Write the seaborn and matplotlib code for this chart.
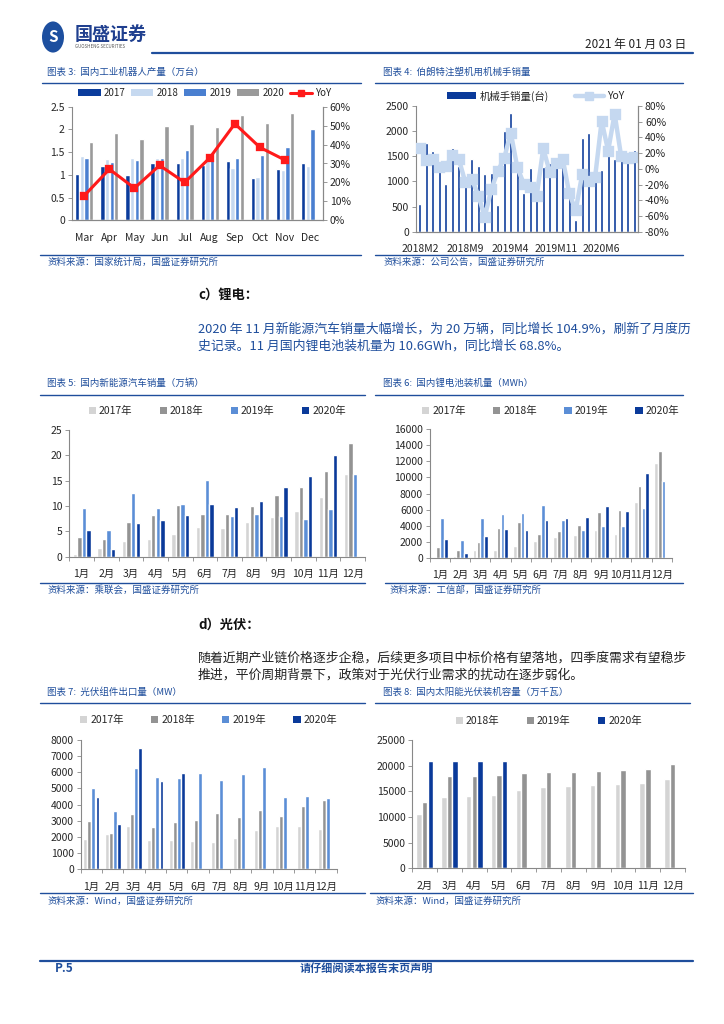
import numpy as np
import pandas as pd
import matplotlib
matplotlib.use('Agg')
import matplotlib.pyplot as plt
import seaborn as sns
from matplotlib.patches import Circle, Patch
from matplotlib.lines import Line2D

# ---- data ----
robot_months = ['Mar', 'Apr', 'May', 'Jun', 'Jul', 'Aug', 'Sep', 'Oct', 'Nov', 'Dec']
robot_2017 = [1.02, 1.20, 1.00, 1.26, 1.25, 1.22, 1.31, 0.94, 1.12, 1.27]
robot_2018 = [1.41, 1.35, 1.37, 1.38, 1.37, 1.40, 1.15, 0.96, 1.10, 1.20]
robot_2019 = [1.37, 1.29, 1.33, 1.37, 1.55, 1.42, 1.37, 1.44, 1.61, 2.00]
robot_2020 = [1.73, 1.93, 1.78, 2.08, 2.12, 2.06, 2.32, 2.14, 2.37, np.nan]
robot_yoy = [13, 27, 17, 29, 20, 33, 51, 38.5, 31.8, np.nan]

arm_months = [f'{p.year}M{p.month}' for p in pd.period_range('2018-02', '2020-11', freq='M')]
arm_sales = [560, 1760, 1610, 1230, 950, 1670, 1300, 900, 1450, 1310, 1140, 1160,
             540, 2000, 2360, 1250, 760, 1270, 680, 1280, 1370, 1300, 1290, 700,
             240, 1870, 1970, 1150, 1230, 1560, 1440, 1450, 1550, 1620]
arm_yoy = [27, 11, 13, 2, 3, 17, 12, -17, -13, -34, -61, -26,
           -3, 14, 46, 2, -19, -23, -34, 26, -4, 8, 13, -31,
           -53, -7, -15, -10, 61, 23, 70, 16, 14, 15]

cn_months = ['1月', '2月', '3月', '4月', '5月', '6月', '7月', '8月', '9月', '10月', '11月', '12月']
ev_2017 = [0.6, 1.8, 3.1, 3.5, 4.5, 5.9, 5.6, 6.8, 7.8, 9.1, 11.8, 16.3]
ev_2018 = [3.8, 3.4, 6.8, 8.2, 10.2, 8.4, 8.4, 10.1, 12.1, 13.8, 16.9, 22.4]
ev_2019 = [9.6, 5.3, 12.6, 9.7, 10.4, 15.2, 8.0, 8.5, 8.0, 7.5, 9.5, 16.3]
ev_2020 = [5.2, 1.6, 6.6, 7.2, 8.2, 10.4, 9.8, 10.9, 13.8, 16.0, 20.0, np.nan]

bat_2017 = [0, 200, 900, 900, 1400, 2100, 2600, 2800, 3400, 2900, 6900, 11800]
bat_2018 = [1300, 1000, 2000, 3700, 4500, 2900, 3300, 4100, 5700, 5900, 8900, 13300]
bat_2019 = [5000, 2200, 5000, 5400, 5600, 6600, 4700, 3400, 3900, 4000, 6200, 9500]
bat_2020 = [2300, 600, 2700, 3600, 3500, 4700, 5000, 5100, 6500, 5800, 10500, np.nan]

pv_2017 = [1850, 2200, 2700, 1800, 1800, 1750, 1700, 1950, 2450, 2650, 2700, 2500]
pv_2018 = [3000, 2250, 3450, 2600, 2900, 3050, 3500, 3250, 3650, 3300, 3900, 4300]
pv_2019 = [5000, 3600, 6250, 5700, 5650, 5950, 5500, 5900, 6300, 4500, 4550, 4400]
pv_2020 = [4450, 2800, 7500, 5450, 5950] + [np.nan] * 7

cap_months = cn_months[1:]
cap_2018 = [10500, 13800, 14100, 14200, 15300, 15800, 16000, 16200, 16500, 16700, 17400]
cap_2019 = [13000, 17900, 18000, 18100, 18500, 18700, 18800, 19000, 19200, 19300, 20400]
cap_2020 = [20900, 20900, 20900, 21000] + [np.nan] * 7

# ---- style ----
sns.set_theme(style='white')
plt.rcParams['font.family'] = ['Noto Sans CJK SC', 'DejaVu Sans']
plt.rcParams['axes.unicode_minus'] = False

BLUE = '#1f4e9c'
NAVY = '#0a3a9a'
SPINE = '#888888'
W, H = 724, 1024

fig = plt.figure(figsize=(W / 100, H / 100), dpi=100)


def box(x0, y0, x1, y1):
    return [x0 / W, 1 - y1 / H, (x1 - x0) / W, (y1 - y0) / H]


def txt(x, y, s, **kw):
    fig.text(x / W, 1 - y / H, s, va='center', **kw)


def hline(x0, x1, y, color=BLUE, lw=1.0):
    fig.add_artist(Line2D([x0 / W, x1 / W], [1 - y / H, 1 - y / H], color=color, lw=lw))


def grouped(ax, months, series, colors, width, gap):
    df = pd.DataFrame(series, index=months)
    long = df.reset_index(names='m').melt(id_vars='m', var_name='yr', value_name='v').dropna()
    sns.barplot(data=long, x='m', y='v', hue='yr', hue_order=list(series.keys()),
                order=months, palette=colors, saturation=1, width=width, gap=gap,
                errorbar=None, ax=ax, legend=False)


def frame(ax, ymax, step, fs=7.5, right=False):
    ax.set_ylim(0, ymax)
    ax.set_yticks(np.arange(0, ymax + step / 2, step))
    ax.yaxis.set_major_formatter(plt.FuncFormatter(lambda v, p: f'{v:g}'))
    ax.set_xlabel('')
    ax.set_ylabel('')
    for s in ['top', 'right']:
        ax.spines[s].set_visible(right and s == 'right')
    for s in ['left', 'bottom', 'right']:
        ax.spines[s].set_color(SPINE)
        ax.spines[s].set_linewidth(0.8)
    ax.tick_params(axis='y', left=True, length=3, width=0.6, color=SPINE, labelsize=fs, pad=2)
    ax.tick_params(axis='x', bottom=False, labelsize=fs, pad=3)


def sq_legend(ax, labels, colors, dy, h):
    handles = [Patch(facecolor=c, edgecolor='none') for c in colors]
    ax.legend(handles, labels, loc='center', bbox_to_anchor=(0.5, 1 + dy / h), ncol=len(labels),
              frameon=False, fontsize=7.5, handlelength=0.7, handleheight=0.7,
              handletextpad=0.3, columnspacing=2.6)


def cat_ticks(ax, n):
    ax.set_xticks(np.arange(n + 1) - 0.5, minor=True)
    ax.tick_params(axis='x', which='minor', bottom=True, length=3, width=0.6, color=SPINE)


def right_axis(ax2, lo, hi, step):
    ax2.set_ylim(lo, hi)
    ax2.set_yticks(np.arange(lo, hi + 1, step))
    ax2.yaxis.set_major_formatter(plt.FuncFormatter(lambda v, p: f'{v:.0f}%'))
    ax2.tick_params(axis='y', right=True, length=3, width=0.6, color=SPINE, labelsize=7.5, pad=2)
    ax2.set_ylabel('')
    for s in ['top', 'left']:
        ax2.spines[s].set_visible(False)
    for s in ['right', 'bottom']:
        ax2.spines[s].set_color(SPINE)
        ax2.spines[s].set_linewidth(0.8)


# ---- header ----
fig.add_artist(Circle((53 / W, 1 - 37 / H), 11 / W, transform=fig.transFigure,
                      facecolor='#1d4f9f', edgecolor='none'))
txt(53, 37.5, 'S', ha='center', fontsize=11, fontweight='bold', color='white')
txt(75, 34, '国盛证券', fontsize=13, fontweight='bold', color='#1f3f8f')
txt(75, 47, 'GUOSHENG SECURITIES', fontsize=3.2, color='#555555')
txt(686, 44, '2021 年 01 月 03 日', ha='right', fontsize=8.5, color='#222222')
hline(152, 693, 53, color=BLUE, lw=1.6)

# ---- chart 3: industrial robots ----
txt(47, 72, '图表 3:  国内工业机器人产量（万台）', fontsize=6.8, color=BLUE, style='italic')
hline(42, 361, 83)
ax = fig.add_axes(box(71.7, 106.7, 322.7, 220.3))
rc = ['#0b3c9c', '#c6d9f0', '#4a7fd0', '#9a9a9a']
grouped(ax, robot_months, {'2017': robot_2017, '2018': robot_2018, '2019': robot_2019,
                           '2020': robot_2020}, rc, 0.74, 0.08)
frame(ax, 2.5, 0.5, fs=7.5, right=True)
ax2 = ax.twinx()
sns.pointplot(x=robot_months, y=robot_yoy, ax=ax2, color='#ff1a1a', markers='s',
              markersize=5, linewidth=2.2, errorbar=None)
right_axis(ax2, 0, 60, 10)
ax.set_xticks(range(len(robot_months)), labels=robot_months)
handles = [Patch(facecolor=c, edgecolor='none') for c in rc]
handles.append(Line2D([], [], color='#ff1a1a', lw=2.2, marker='s', markersize=5))
ax2.legend(handles, ['2017', '2018', '2019', '2020', 'YoY'], loc='center',
           bbox_to_anchor=(0.53, 1 + 13.7 / 113.6), ncol=5, frameon=False, fontsize=7,
           handlelength=2.3, handleheight=0.7, handletextpad=0.3, columnspacing=0.6)
txt(47, 262, '资料来源：国家统计局，国盛证券研究所', fontsize=6.8, color=BLUE, style='italic')
hline(40, 361, 255)

# ---- chart 4: manipulator sales ----
txt(383, 72, '图表 4:  伯朗特注塑机用机械手销量', fontsize=6.8, color=BLUE, style='italic')
hline(375, 683, 83)
ax = fig.add_axes(box(416, 106, 638, 231.7))
sns.barplot(x=arm_months, y=arm_sales, color=NAVY, saturation=1, width=0.45,
            errorbar=None, ax=ax)
frame(ax, 2500, 500, fs=7.5, right=True)
ax2 = ax.twinx()
sns.pointplot(x=arm_months, y=arm_yoy, ax=ax2, color='#c5d8f0', markers='s',
              markersize=5.5, linewidth=3.2, errorbar=None)
right_axis(ax2, -80, 80, 20)
ax.set_xticks(range(0, len(arm_months), 7), labels=arm_months[::7])
ax.set_xlim(-0.6, len(arm_months) - 0.4)
handles = [Patch(facecolor=NAVY, edgecolor='none'),
           Line2D([], [], color='#c5d8f0', lw=3.2, marker='s', markersize=5.5)]
ax2.legend(handles, ['机械手销量(台)', 'YoY'], loc='center', bbox_to_anchor=(0.54, 1 + 10 / 125.7),
           ncol=2, frameon=False, fontsize=7.5, handlelength=2.8, handleheight=0.7,
           handletextpad=0.3, columnspacing=2.5)
txt(383, 262, '资料来源：公司公告，国盛证券研究所', fontsize=6.8, color=BLUE, style='italic')
hline(375, 683, 255)

# ---- text block c ----
txt(198, 295, 'c）锂电：', fontsize=9.5, fontweight='bold', color='#111111')
txt(198, 329, '2020 年 11 月新能源汽车销量大幅增长，为 20 万辆，同比增长 104.9%，刷新了月度历',
    fontsize=9.3, color='#1f4e9c')
txt(198, 346, '史记录。11 月国内锂电池装机量为 10.6GWh，同比增长 68.8%。',
    fontsize=9.3, color='#1f4e9c')

pal4 = ['#d4d4d4', '#939393', '#5b8ed6', NAVY]
yl4 = ['2017年', '2018年', '2019年', '2020年']

# ---- chart 5: NEV sales ----
txt(47, 383, '图表 5:  国内新能源汽车销量（万辆）', fontsize=6.8, color=BLUE, style='italic')
hline(40, 365, 395)
ax = fig.add_axes(box(69.3, 430, 365, 556.7))
grouped(ax, cn_months, dict(zip(yl4, [ev_2017, ev_2018, ev_2019, ev_2020])), pal4, 0.74, 0.04)
frame(ax, 25, 5)
cat_ticks(ax, len(cn_months))
sq_legend(ax, yl4, pal4, 19, 126.7)
txt(47, 590, '资料来源：乘联会，国盛证券研究所', fontsize=6.8, color=BLUE, style='italic')
hline(40, 365, 583)

# ---- chart 6: battery installs ----
txt(383, 383, '图表 6:  国内锂电池装机量（MWh）', fontsize=6.8, color=BLUE, style='italic')
hline(375, 683, 395)
ax = fig.add_axes(box(430, 429.3, 671.7, 557.7))
grouped(ax, cn_months, dict(zip(yl4, [bat_2017, bat_2018, bat_2019, bat_2020])), pal4, 0.76, 0.04)
frame(ax, 16000, 2000)
cat_ticks(ax, len(cn_months))
sq_legend(ax, yl4, pal4, 18, 128.4)
txt(390, 590, '资料来源：工信部，国盛证券研究所', fontsize=6.8, color=BLUE, style='italic')
hline(385, 683, 583)

# ---- text block d ----
txt(198, 625, 'd）光伏：', fontsize=9.5, fontweight='bold', color='#111111')
txt(198, 658, '随着近期产业链价格逐步企稳，后续更多项目中标价格有望落地，四季度需求有望稳步',
    fontsize=9.3, color='#222222')
txt(198, 675, '推进，平价周期背景下，政策对于光伏行业需求的扰动在逐步弱化。',
    fontsize=9.3, color='#222222')

# ---- chart 7: PV module exports ----
txt(47, 692, '图表 7:  光伏组件出口量（MW）', fontsize=6.8, color=BLUE, style='italic')
hline(40, 365, 703)
ax = fig.add_axes(box(80.7, 740, 336.7, 869.3))
grouped(ax, cn_months, dict(zip(yl4, [pv_2017, pv_2018, pv_2019, pv_2020])), pal4, 0.76, 0.04)
frame(ax, 8000, 1000)
cat_ticks(ax, len(cn_months))
sq_legend(ax, yl4, pal4, 20, 129.3)
txt(47, 901, '资料来源：Wind，国盛证券研究所', fontsize=6.8, color=BLUE, style='italic')
hline(40, 365, 893)

# ---- chart 8: PV installed capacity ----
txt(383, 692, '图表 8:  国内太阳能光伏装机容量（万千瓦）', fontsize=6.8, color=BLUE, style='italic')
hline(375, 690, 703)
ax = fig.add_axes(box(412.3, 740, 685, 868.3))
pal3 = ['#d4d4d4', '#939393', NAVY]
yl3 = ['2018年', '2019年', '2020年']
grouped(ax, cap_months, dict(zip(yl3, [cap_2018, cap_2019, cap_2020])), pal3, 0.68, 0.04)
frame(ax, 25000, 5000)
cat_ticks(ax, len(cap_months))
sq_legend(ax, yl3, pal3, 19, 128.3)
txt(376, 901, '资料来源：Wind，国盛证券研究所', fontsize=6.8, color=BLUE, style='italic')
hline(370, 693, 893)

# ---- footer ----
hline(40, 693, 961, color=BLUE, lw=1.6)
txt(55, 968, 'P.5', fontsize=8.5, fontweight='bold', style='italic', color=BLUE)
txt(366, 968, '请仔细阅读本报告末页声明', ha='center', fontsize=8, fontweight='bold',
    style='italic', color=BLUE)

fig.savefig('out.png', dpi=100)
